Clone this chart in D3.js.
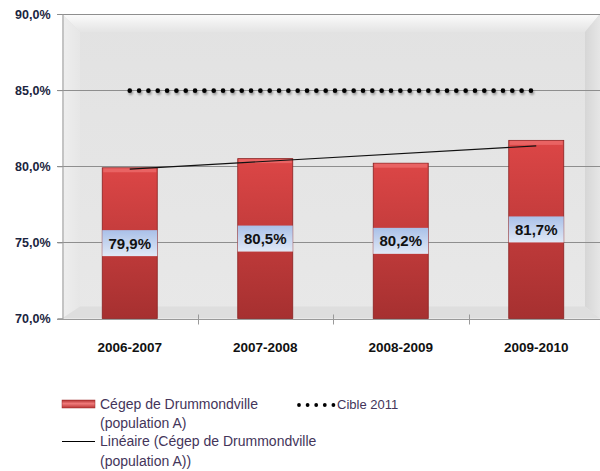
<!DOCTYPE html>
<html>
<head>
<meta charset="utf-8">
<script src="https://cdn.jsdelivr.net/npm/d3@7"></script>
<style>
  body { margin: 0; background: #fff; }
  text { font-family: "Liberation Sans", Arial, sans-serif; }
</style>
</head>
<body>
<div id="chart"></div>
<script>
(function () {
  'use strict';

  //---- data
  var categories = ['2006-2007', '2007-2008', '2008-2009', '2009-2010'];
  var valuesCegep = [79.9, 80.5, 80.2, 81.7];
  var cible2011 = 85;
  var yTicks = [70, 75, 80, 85, 90];
  var legendLabels = {
    bars: ['Cégep de Drummondville', '(population A)'],
    trend: ['Linéaire (Cégep de Drummondville', '(population A))'],
    target: 'Cible 2011'
  };

  var W = 600, H = 471;
  var plot = { left: 62, right: 604, top: 14, bottom: 318.5 };

  var svg = d3.select('#chart').append('svg').attr('width', W).attr('height', H);
  var defs = svg.append('defs');

  function fmt(v) { return d3.format('.1f')(v).replace('.', ',') + '%'; }

  //---- gradients
  var g1 = defs.append('linearGradient').attr('id', 'wallGrad').attr('x1', 0).attr('y1', 0).attr('x2', 0).attr('y2', 1);
  g1.append('stop').attr('offset', '0%').attr('stop-color', '#e2e2e2');
  g1.append('stop').attr('offset', '100%').attr('stop-color', '#e8e8e8');

  var g2 = defs.append('linearGradient').attr('id', 'topGrad').attr('x1', 0).attr('y1', 0).attr('x2', 0).attr('y2', 1);
  g2.append('stop').attr('offset', '0%').attr('stop-color', '#fcfcfc');
  g2.append('stop').attr('offset', '100%').attr('stop-color', '#e4e4e4');

  var g3 = defs.append('linearGradient').attr('id', 'rightGrad').attr('x1', 0).attr('y1', 0).attr('x2', 1).attr('y2', 0);
  g3.append('stop').attr('offset', '0%').attr('stop-color', '#d6d6d6');
  g3.append('stop').attr('offset', '100%').attr('stop-color', '#e6e6e6');

  var g4 = defs.append('linearGradient').attr('id', 'leftGrad').attr('x1', 0).attr('y1', 0).attr('x2', 1).attr('y2', 0);
  g4.append('stop').attr('offset', '0%').attr('stop-color', '#eeeeee');
  g4.append('stop').attr('offset', '100%').attr('stop-color', '#e6e6e6');

  var gb = defs.append('linearGradient').attr('id', 'barGrad').attr('x1', 0).attr('y1', 0).attr('x2', 0).attr('y2', 1);
  gb.append('stop').attr('offset', '0%').attr('stop-color', '#dc4646');
  gb.append('stop').attr('offset', '100%').attr('stop-color', '#a63030');

  var gl = defs.append('linearGradient').attr('id', 'lblGrad').attr('x1', 0).attr('y1', 0).attr('x2', 0).attr('y2', 1);
  gl.append('stop').attr('offset', '0%').attr('stop-color', '#a9c0e8');
  gl.append('stop').attr('offset', '100%').attr('stop-color', '#e1e9f6');

  var glg = defs.append('linearGradient').attr('id', 'legGrad').attr('x1', 0).attr('y1', 0).attr('x2', 0).attr('y2', 1);
  glg.append('stop').attr('offset', '0%').attr('stop-color', '#b03030');
  glg.append('stop').attr('offset', '45%').attr('stop-color', '#f07a7a');
  glg.append('stop').attr('offset', '100%').attr('stop-color', '#b83434');

  var sh = defs.append('filter').attr('id', 'dotShadow').attr('x', '-100%').attr('y', '-100%').attr('width', '300%').attr('height', '300%');
  sh.append('feDropShadow').attr('dx', 1).attr('dy', 2).attr('stdDeviation', 1.2).attr('flood-color', '#000').attr('flood-opacity', 0.35);

  //---- scales
  var x = d3.scaleBand().domain(categories).range([plot.left, plot.right])
    .paddingInner(0.594).paddingOuter(0.297);
  var y = d3.scaleLinear().domain([70, 90]).range([plot.bottom, plot.top]);
  var step = x.step();

  //---- back wall with bevel
  var wall = svg.append('g');
  var bl = 18, L = plot.left, R = W, T = plot.top, B = plot.bottom;
  wall.append('rect').attr('x', L).attr('y', T).attr('width', R - L).attr('height', B - T).attr('fill', 'url(#wallGrad)');
  wall.append('polygon').attr('points', [[L, T], [R, T], [R - 15, T + bl], [L + bl, T + bl]].join(' ')).attr('fill', 'url(#topGrad)');
  wall.append('polygon').attr('points', [[L, T], [L + bl, T + bl], [L + bl, B - 12], [L, B]].join(' ')).attr('fill', 'url(#leftGrad)');
  wall.append('polygon').attr('points', [[R, T], [R - 15, T + bl], [R - 15, B - 12], [R, B]].join(' ')).attr('fill', 'url(#rightGrad)');
  wall.append('polygon').attr('points', [[L, B], [L + bl, B - 12], [R - 15, B - 12], [R, B]].join(' ')).attr('fill', '#dedede');

  //---- gridlines
  svg.append('g').selectAll('line').data(yTicks.slice(1)).enter().append('line')
    .attr('x1', plot.left - 5).attr('x2', W)
    .attr('y1', function (d) { return Math.round(y(d)) + 0.5; })
    .attr('y2', function (d) { return Math.round(y(d)) + 0.5; })
    .attr('stroke', '#8e8e8e').attr('stroke-width', 1);

  //---- axes
  var yAxis = svg.append('g').attr('transform', 'translate(' + (plot.left + 0.5) + ',0)')
    .call(d3.axisLeft(y).tickValues(yTicks).tickSize(5).tickFormat(fmt));
  yAxis.select('.domain').attr('stroke', '#9a9a9a');
  yAxis.selectAll('.tick line').attr('stroke', '#8e8e8e');
  yAxis.selectAll('.tick text').attr('x', -12).attr('fill', '#1b2540')
    .style('font-size', '12.5px').style('font-weight', 'bold')
    .style('font-family', '"Liberation Sans", Arial, sans-serif');

  var xAxis = svg.append('g').attr('transform', 'translate(0,' + (Math.round(plot.bottom) + 0.5) + ')');
  xAxis.append('line').attr('x1', plot.left - 5).attr('x2', W).attr('stroke', '#9a9a9a');
  xAxis.selectAll('line.tk').data(categories.slice(1)).enter().append('line').attr('class', 'tk')
    .attr('x1', function (d) { return Math.round(x(d) - x.paddingInner() * step / 2) + 0.5; })
    .attr('x2', function (d) { return Math.round(x(d) - x.paddingInner() * step / 2) + 0.5; })
    .attr('y1', -5).attr('y2', 5).attr('stroke', '#9a9a9a');
  xAxis.selectAll('text').data(categories).enter().append('text')
    .attr('x', function (d) { return x(d) + x.bandwidth() / 2; })
    .attr('y', 32).attr('text-anchor', 'middle')
    .attr('fill', '#111').style('font-size', '13.5px').style('font-weight', 'bold')
    .text(function (d) { return d; });

  //---- bars
  var bars = svg.append('g').selectAll('g.bar').data(valuesCegep).enter().append('g').attr('class', 'bar');
  bars.append('rect')
    .attr('x', function (d, i) { return x(categories[i]); })
    .attr('y', function (d) { return y(d); })
    .attr('width', x.bandwidth())
    .attr('height', function (d) { return y(70) - y(d); })
    .attr('fill', 'url(#barGrad)').attr('stroke', '#8a2222').attr('stroke-width', 0.8);
  bars.append('rect')
    .attr('x', function (d, i) { return x(categories[i]) + 1; })
    .attr('y', function (d) { return y(d) + 0.5; })
    .attr('width', x.bandwidth() - 2).attr('height', 4)
    .attr('fill', '#ec6a6a').attr('opacity', 0.8);

  //---- target line (dotted)
  var tx0 = x(categories[0]) + x.bandwidth() / 2;
  var tx1 = x(categories[categories.length - 1]) + x.bandwidth() / 2 - 5;
  var dotGap = 9.33;
  var dots = d3.range(tx0, tx1, dotGap);
  svg.append('g').attr('filter', 'url(#dotShadow)').selectAll('circle').data(dots).enter().append('circle')
    .attr('cx', function (d) { return d; }).attr('cy', y(cible2011) + 0.5)
    .attr('r', 2.3).attr('fill', '#000');

  //---- linear trendline (least squares on bar values)
  var n = valuesCegep.length;
  var xs = d3.range(1, n + 1);
  var mx = d3.mean(xs), my = d3.mean(valuesCegep);
  var slope = d3.sum(xs, function (v, i) { return (v - mx) * (valuesCegep[i] - my); }) /
              d3.sum(xs, function (v) { return (v - mx) * (v - mx); });
  var icpt = my - slope * mx;
  svg.append('line')
    .attr('x1', tx0).attr('y1', y(icpt + slope * 1))
    .attr('x2', x(categories[n - 1]) + x.bandwidth() / 2).attr('y2', y(icpt + slope * n))
    .attr('stroke', '#111').attr('stroke-width', 1.1);

  //---- data labels
  var lbl = svg.append('g').selectAll('g').data(valuesCegep).enter().append('g');
  lbl.append('rect')
    .attr('x', function (d, i) { return x(categories[i]); })
    .attr('y', function (d) { return y((70 + d) / 2) - 13; })
    .attr('width', x.bandwidth()).attr('height', 26)
    .attr('fill', 'url(#lblGrad)');
  lbl.append('text')
    .attr('x', function (d, i) { return x(categories[i]) + x.bandwidth() / 2; })
    .attr('y', function (d) { return y((70 + d) / 2) + 5.5; })
    .attr('text-anchor', 'middle').attr('fill', '#111')
    .style('font-size', '15px').style('font-weight', 'bold')
    .text(fmt);

  //---- legend
  var leg = svg.append('g').attr('fill', '#44355a').style('font-size', '14px');
  leg.append('rect').attr('x', 62).attr('y', 400).attr('width', 33).attr('height', 8)
    .attr('fill', 'url(#legGrad)').attr('stroke', '#9a2a2a').attr('stroke-width', 0.5);
  leg.append('text').attr('x', 100).attr('y', 409).text(legendLabels.bars[0]);
  leg.append('text').attr('x', 100).attr('y', 428).text(legendLabels.bars[1]);
  leg.append('line').attr('x1', 62).attr('x2', 95).attr('y1', 441.5).attr('y2', 441.5).attr('stroke', '#000');
  leg.append('text').attr('x', 100).attr('y', 446).text(legendLabels.trend[0]);
  leg.append('text').attr('x', 100).attr('y', 466).text(legendLabels.trend[1]);
  leg.selectAll('circle').data(d3.range(5)).enter().append('circle')
    .attr('cx', function (d) { return 299 + d * 8.6; }).attr('cy', 405).attr('r', 1.9).attr('fill', '#000');
  leg.append('text').attr('x', 337).attr('y', 409).style('font-size', '13px').text(legendLabels.target);
})();
</script>
</body>
</html>
